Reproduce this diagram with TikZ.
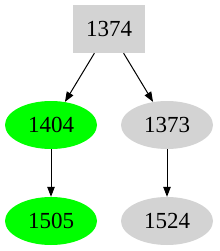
\documentclass[tikz,border=0pt]{standalone}
\usepackage{xcolor}
\usepackage{fontspec}
\setmainfont{Liberation Serif}
\usepackage{tikz}
\usetikzlibrary{shapes.geometric, arrows.meta, positioning}
\definecolor{gvgreen}{RGB}{0,255,0}
\definecolor{gvgray}{RGB}{211,211,211}

\tikzset{
    treebox/.style={rectangle, fill=gvgray, minimum width=72pt, minimum height=48pt, inner sep=0pt},
    treeleaf/.style={ellipse, minimum width=92pt, minimum height=48pt, inner sep=0pt},
    treeedge/.style={-{Triangle[length=10pt,width=7.5pt]}, line width=1pt, black}
}

\begin{document}
\begin{tikzpicture}[x=1pt, y=-1pt, font=\fontsize{23}{27}\selectfont]
\useasboundingbox (0,0) rectangle (219,251);
\node[treebox] (n1374) at (109,29) {1374};
\node[treeleaf, fill=gvgreen] (n1404) at (51,125) {1404};
\node[treeleaf, fill=gvgray] (n1373) at (167,125) {1373};
\node[treeleaf, fill=gvgreen] (n1505) at (51,221) {1505};
\node[treeleaf, fill=gvgray] (n1524) at (167,221) {1524};

\draw[treeedge] (n1374) -- (n1404);
\draw[treeedge] (n1374) -- (n1373);
\draw[treeedge] (n1404) -- (n1505);
\draw[treeedge] (n1373) -- (n1524);
\end{tikzpicture}
\end{document}
